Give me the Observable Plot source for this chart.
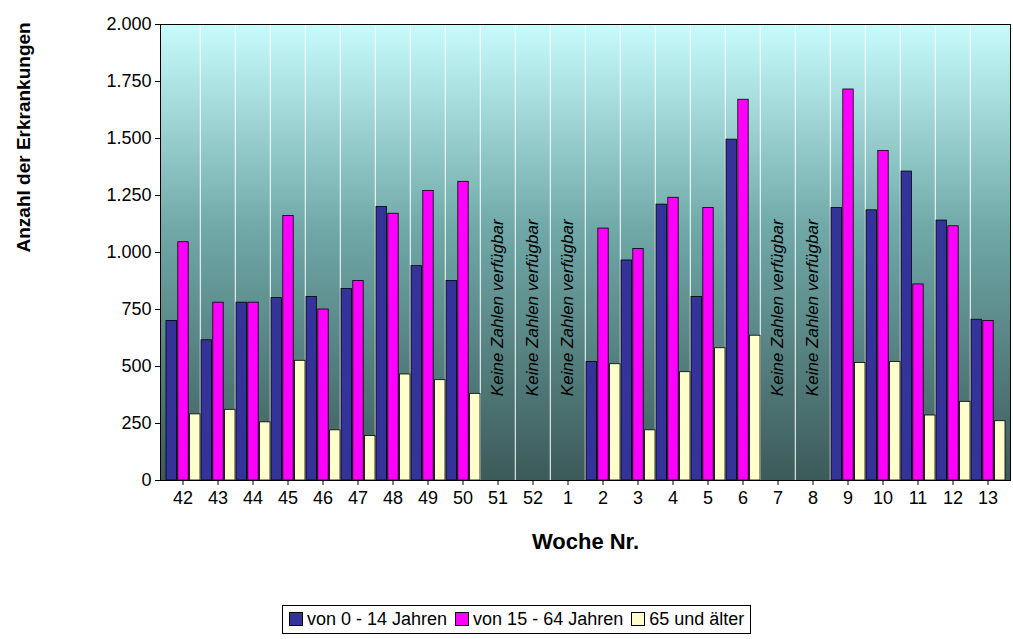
<!DOCTYPE html>
<html><head><meta charset="utf-8">
<script src="https://cdn.jsdelivr.net/npm/d3@7"></script>
<script src="https://cdn.jsdelivr.net/npm/@observablehq/plot@0.6"></script>
<style>
body{margin:0;background:#fff;font-family:"Liberation Sans",Arial,sans-serif}
#legend{position:absolute;left:282px;top:605px;border:1px solid #000;padding:3px 6px;font-size:18px;display:flex;gap:8px;align-items:center;background:#fff}
#legend span.b{display:inline-block;width:12px;height:12px;border:1px solid #000;margin-right:4px;vertical-align:-1px}
[aria-label$="tick label"], [aria-label$="tick label"] text{font-size:18px}
</style></head><body>
<div id="chart"></div>
<div id="legend"></div>
<script>
const weeks = ["42","43","44","45","46","47","48","49","50","51","52","1","2","3","4","5","6","7","8","9","10","11","12","13"];
const missing = ["51","52","1","7","8"];
const series = ["von 0 - 14 Jahren","von 15 - 64 Jahren","65 und älter"];
const colors = ["#333399","#ff00ff","#ffffcc"];
const kids   = [700,615,780,800,805,840,1200,940,875,null,null,null,520,965,1210,805,1495,null,null,1195,1185,1355,1140,705];
const adults = [1045,780,780,1160,750,875,1170,1270,1310,null,null,null,1105,1015,1240,1195,1670,null,null,1715,1445,860,1115,700];
const seniors= [290,310,255,525,220,195,465,440,380,null,null,null,510,220,475,580,635,null,null,515,520,285,345,260];
const yTicks = [0,250,500,750,1000,1250,1500,1750,2000];

const vals=[kids,adults,seniors];
const rows=[];
weeks.forEach((w,i)=>vals.forEach((arr,s)=>{ if(arr[i]!=null) rows.push({week:w,s,value:arr[i]}); }));
const n=weeks.length, mL=160, mR=3, W=1013;
const bw=(W-mL-mR)/n, third=bw/3;
const fmt=d3.formatLocale({decimal:",",thousands:".",grouping:[3],currency:["","€"]}).format(",");

const bg=(index,scales,values,dim)=>{
  const ns="http://www.w3.org/2000/svg";
  const g=document.createElementNS(ns,"g");
  g.innerHTML=`<defs><linearGradient id="gr" x1="0" y1="0" x2="0" y2="1"><stop offset="0" stop-color="#c8fcfc"/><stop offset="0.45" stop-color="#70a8a8"/><stop offset="1" stop-color="#3c5a5a"/></linearGradient></defs>`;
  const r=document.createElementNS(ns,"rect");
  r.setAttribute("x",dim.marginLeft);r.setAttribute("y",dim.marginTop);
  r.setAttribute("width",dim.width-dim.marginLeft-dim.marginRight);
  r.setAttribute("height",dim.height-dim.marginTop-dim.marginBottom);
  r.setAttribute("fill","url(#gr)");g.appendChild(r);
  return g;
};
const plot=Plot.plot({
  width:W,height:590,marginLeft:mL,marginRight:mR,marginTop:24,marginBottom:110,
  style:{fontFamily:"Liberation Sans, Arial, sans-serif",fontSize:"17px",background:"#fff"},
  x:{domain:weeks,padding:0,label:null},
  y:{domain:[0,2000],label:null},
  marks:[
    bg,
    Plot.ruleX(weeks.slice(1),{x:d=>d,stroke:"#fff",strokeWidth:1,dx:-bw/2}),
    ...[0,1,2].map(s=>Plot.barY(rows.filter(r=>r.s===s),{x:"week",y:"value",fill:colors[s],stroke:"#000",strokeWidth:0.8,insetLeft:s*third+1,insetRight:(2-s)*third})),
    Plot.text(missing,{x:d=>d,y:370,text:()=>"Keine Zahlen verfügbar",rotate:-90,textAnchor:"start",fontStyle:"italic",fontSize:17,fill:"#000"}),
    Plot.frame({stroke:"#000"}),
    Plot.axisY({ticks:yTicks,tickFormat:fmt,tickSize:5,tickPadding:4,label:null}),
    Plot.axisX({tickSize:5,tickPadding:6,label:null}),
    Plot.text(["Woche Nr."],{frameAnchor:"bottom",dy:68,fontSize:22,fontWeight:"bold"}),
    Plot.text(["Anzahl der Erkrankungen"],{frameAnchor:"left",dx:-137,dy:0,rotate:-90,fontSize:19,fontWeight:"bold"})
  ]
});
document.getElementById("chart").appendChild(plot);
document.getElementById("legend").innerHTML=series.map((s,i)=>`<div><span class="b" style="background:${colors[i]}"></span>${s}</div>`).join("");
</script></body></html>
